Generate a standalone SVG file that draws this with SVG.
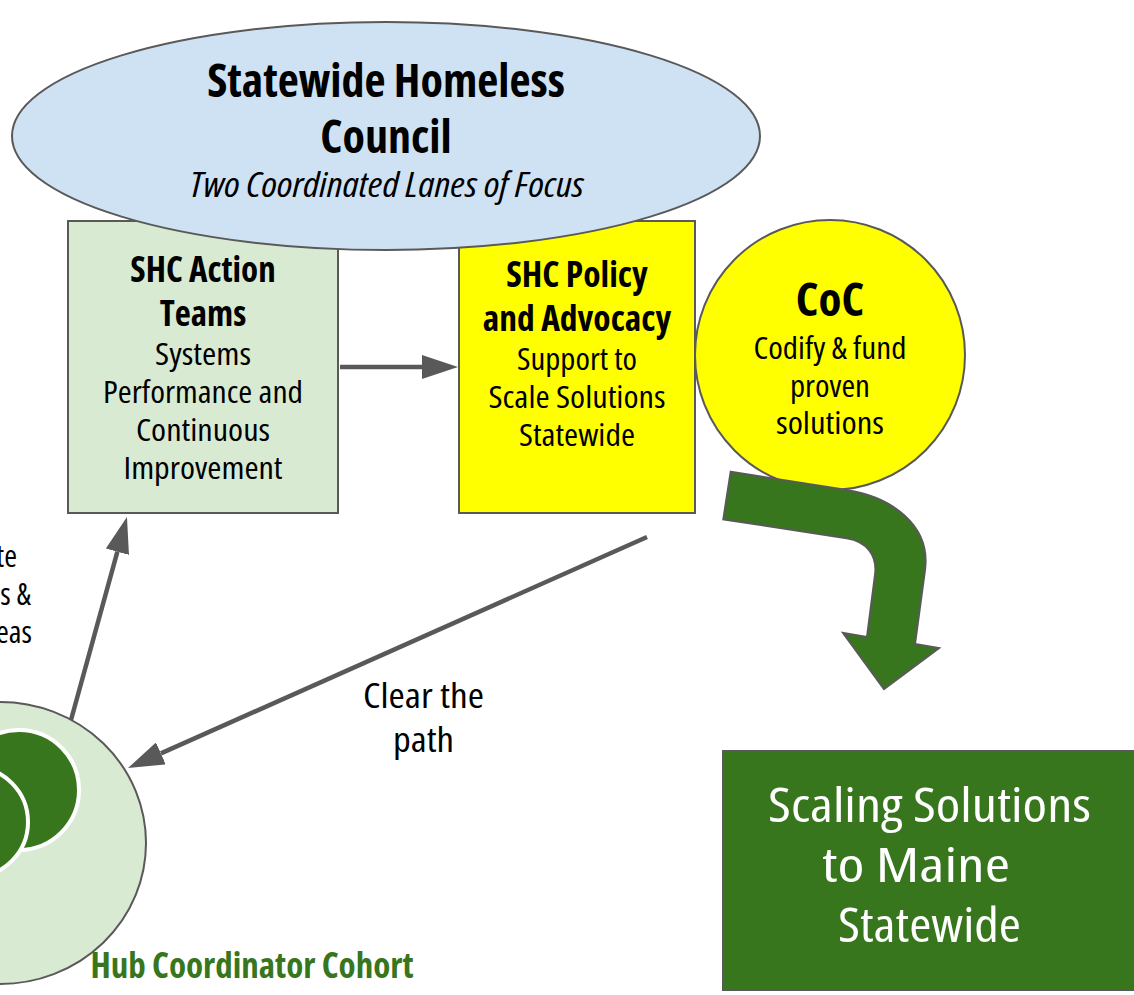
<svg xmlns="http://www.w3.org/2000/svg" width="1134" height="995" viewBox="0 0 1134 995">
<style>
text{font-family:'Open Sans','Liberation Sans Narrow',sans-serif;font-stretch:75%;fill:#000;text-anchor:middle}
.b{font-weight:bold}
.r{font-size:31px}
.ol{stroke:#595959;stroke-width:2}
.conn{stroke:#595959;stroke-width:4.5;fill:none}
.w{fill:#fff;font-size:48px}
</style>
<defs>
<marker id="ah" viewBox="0 -12 36 24" markerWidth="36" markerHeight="24" refX="0" refY="0" orient="auto" markerUnits="userSpaceOnUse">
<path d="M0,-12 L36,0 L0,12 Z" fill="#595959"/>
</marker>
</defs>
<rect width="1134" height="995" fill="#fff"/>
<g id="action-teams">
<rect class="ol" x="68" y="221" width="270" height="292" fill="#d9ead3"/>
<text class="b" x="203" y="282" font-size="35">SHC Action</text>
<text class="b" x="203" y="326" font-size="35">Teams</text>
<text class="r" x="203" y="365" textLength="96" lengthAdjust="spacingAndGlyphs">Systems</text>
<text class="r" x="203" y="403" textLength="200" lengthAdjust="spacingAndGlyphs">Performance and</text>
<text class="r" x="203" y="441" textLength="134" lengthAdjust="spacingAndGlyphs">Continuous</text>
<text class="r" x="203" y="479" textLength="159" lengthAdjust="spacingAndGlyphs">Improvement</text>
</g>
<g id="policy">
<rect class="ol" x="459" y="221" width="236" height="292" fill="#ffff00"/>
<text class="b" x="577" y="287" font-size="35.5">SHC Policy</text>
<text class="b" x="577" y="331" font-size="35.5">and Advocacy</text>
<text class="r" x="577" y="370" textLength="120" lengthAdjust="spacingAndGlyphs">Support to</text>
<text class="r" x="577" y="408" textLength="177" lengthAdjust="spacingAndGlyphs">Scale Solutions</text>
<text class="r" x="577" y="446" textLength="116" lengthAdjust="spacingAndGlyphs">Statewide</text>
</g>
<g id="council">
<ellipse class="ol" cx="386" cy="136" rx="374" ry="114" fill="#cfe2f3"/>
<text class="b" x="386" y="97" font-size="46">Statewide Homeless</text>
<text class="b" x="386" y="153" font-size="46">Council</text>
<text x="387" y="197" font-size="35" font-style="italic" textLength="394" lengthAdjust="spacingAndGlyphs">Two Coordinated Lanes of Focus</text>
</g>
<g id="coc">
<circle class="ol" cx="830" cy="355" r="135" fill="#ffff00"/>
<text class="b" x="830" y="316" font-size="47">CoC</text>
<text class="r" x="830" y="359" textLength="153" lengthAdjust="spacingAndGlyphs">Codify &amp; fund</text>
<text class="r" x="830" y="397" textLength="80" lengthAdjust="spacingAndGlyphs">proven</text>
<text class="r" x="830" y="434" textLength="108" lengthAdjust="spacingAndGlyphs">solutions</text>
</g>
<g id="hub">
<ellipse class="ol" cx="0" cy="843" rx="146" ry="141" fill="#d9ead3"/>
<circle cx="19" cy="790" r="60" fill="#38761d" stroke="#fff" stroke-width="4"/>
<circle cx="-27" cy="822" r="55" fill="#38761d" stroke="#fff" stroke-width="4"/>
<text class="b" x="252" y="978" font-size="35" style="fill:#38761d">Hub Coordinator Cohort</text>
</g>
<g id="scaling">
<rect class="ol" x="723" y="751" width="420" height="239" fill="#38761d"/>
<text class="w" x="929.5" y="822" textLength="323" lengthAdjust="spacingAndGlyphs">Scaling Solutions</text>
<text class="w" x="916" y="882" textLength="188" lengthAdjust="spacingAndGlyphs">to Maine</text>
<text class="w" x="929.5" y="942" textLength="183" lengthAdjust="spacingAndGlyphs">Statewide</text>
</g>
<g id="left-label">
<text class="r" x="17" y="567" style="text-anchor:end">te</text>
<text class="r" x="31" y="605" style="text-anchor:end">s &amp;</text>
<text class="r" x="32" y="643" style="text-anchor:end">eas</text>
</g>
<g id="connectors">
<line class="conn" x1="340" y1="367" x2="422" y2="367" marker-end="url(#ah)"/>
<line class="conn" x1="71" y1="720" x2="117.4" y2="551.7" marker-end="url(#ah)"/>
<line class="conn" x1="647" y1="537" x2="160.9" y2="753.4" marker-end="url(#ah)"/>
<path d="M730.7,471.7 L846.7,490 C891,497 931,525 925,570 L915,644 L939,648 L884,689 L843,633 L867,637 L875,575 C877.7,555 866.5,541.4 846.7,538.3 L723.3,519.3 Z" fill="#38761d" stroke="#595959" stroke-width="2"/>
<text x="423.5" y="708" font-size="35" textLength="121" lengthAdjust="spacingAndGlyphs">Clear the</text>
<text x="423.5" y="752" font-size="35" textLength="61" lengthAdjust="spacingAndGlyphs">path</text>
</g>
</svg>
